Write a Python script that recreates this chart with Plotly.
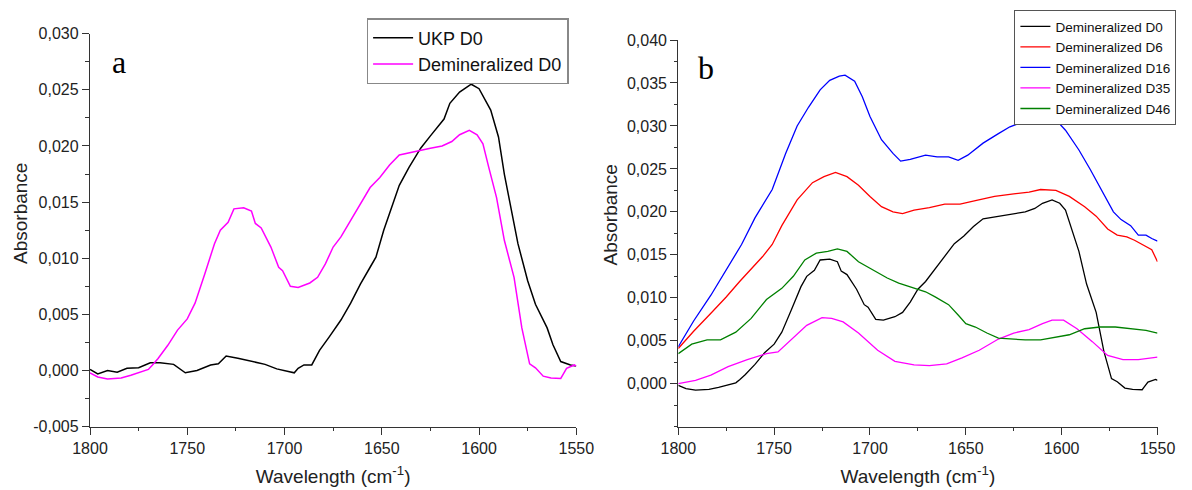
import plotly.graph_objects as go

# ---------------- data ----------------
# Panel a : UKP D0
ukp_d0_wn = [1800, 1796, 1791, 1786, 1781, 1775, 1769, 1764, 1757, 1751, 1745, 1738, 1734,
             1730, 1724, 1717, 1710, 1704, 1698, 1695, 1693, 1690, 1686, 1682, 1677, 1671,
             1666, 1661, 1656, 1653, 1649, 1646, 1641, 1636, 1630, 1625, 1618, 1615, 1610,
             1604, 1600, 1594, 1590, 1587, 1580, 1575, 1571, 1565, 1562, 1558, 1553, 1550]
ukp_d0_abs = [0.0001, -0.0003, 0.0000, -0.00015, 0.0002, 0.00025, 0.0007, 0.0007, 0.00055,
              -0.0002, 0.0000, 0.0005, 0.0006, 0.0013, 0.0011, 0.00085, 0.00055, 0.00015,
              -0.00005, -0.0002, 0.0002, 0.0005, 0.0005, 0.0018, 0.0030, 0.0045, 0.0060,
              0.0077, 0.0092, 0.0101, 0.0125, 0.0140, 0.0165, 0.0181, 0.0198, 0.0209, 0.0224,
              0.0238, 0.0248, 0.0255, 0.0251, 0.0232, 0.0208, 0.0175, 0.0113, 0.0080, 0.0059,
              0.0038, 0.0023, 0.0008, 0.0005, 0.0004]

# Demineralized D0 (same spectrum in both panels)
demin_d0_wn = [1800, 1796, 1791, 1784, 1779, 1774, 1770, 1768, 1765, 1760, 1755, 1750, 1746,
               1741, 1736, 1733, 1729, 1726, 1721, 1717, 1715, 1712, 1707, 1703, 1701, 1697,
               1693, 1687, 1683, 1679, 1675, 1671, 1666, 1661, 1656, 1651, 1646, 1641, 1636,
               1631, 1625, 1619, 1614, 1610, 1605, 1601, 1598, 1595, 1591, 1587, 1582, 1578,
               1574, 1571, 1567, 1563, 1558, 1557, 1555, 1551, 1550]
demin_d0_abs = [-0.0002, -0.00057, -0.00075, -0.00066, -0.00042, -0.00015, 0.0001, 0.00047,
                0.00107, 0.00225, 0.0036, 0.0046, 0.0060, 0.0086, 0.0113, 0.0125, 0.0132,
                0.0144, 0.0145, 0.0142, 0.0131, 0.0127, 0.0110, 0.0092, 0.0089, 0.0075,
                0.0074, 0.0078, 0.0083, 0.0095, 0.0110, 0.0119, 0.0134, 0.0149, 0.0163,
                0.0172, 0.0183, 0.0192, 0.0194, 0.0196, 0.0198, 0.0200, 0.0204, 0.0210,
                0.0214, 0.0210, 0.0202, 0.0181, 0.0154, 0.0116, 0.0083, 0.0038, 0.0006,
                0.00024, -0.0005, -0.00066, -0.0007, -0.0004, 0.0002, 0.0005, 0.0004]

# Panel b
d6_wn = [1800, 1792, 1783, 1775, 1768, 1762, 1756, 1751, 1746, 1738, 1730, 1724, 1718, 1712,
         1706, 1700, 1694, 1688, 1683, 1677, 1669, 1661, 1653, 1645, 1635, 1625, 1617, 1611,
         1603, 1596, 1588, 1582, 1576, 1571, 1566, 1562, 1558, 1553, 1550]
d6_abs = [0.0041, 0.0061, 0.0082, 0.0101, 0.0119, 0.0133, 0.0148, 0.0162, 0.0184, 0.0214,
          0.0234, 0.0241, 0.0246, 0.0241, 0.0231, 0.0218, 0.0206, 0.0200, 0.0198, 0.0202,
          0.0205, 0.0209, 0.0209, 0.0213, 0.0218, 0.0221, 0.0223, 0.0226, 0.0225, 0.0218,
          0.0206, 0.0195, 0.0180, 0.0173, 0.0171, 0.0167, 0.0162, 0.0156, 0.0142]

d16_wn = [1800, 1792, 1783, 1775, 1767, 1760, 1751, 1744, 1738, 1732, 1726, 1721, 1716, 1713,
          1708, 1704, 1700, 1694, 1688, 1684, 1679, 1671, 1665, 1659, 1654, 1649, 1641, 1633,
          1627, 1621, 1616, 1610, 1603, 1598, 1591, 1585, 1579, 1573, 1569, 1564, 1560, 1556,
          1553, 1550]
d16_abs = [0.0043, 0.0073, 0.0103, 0.0133, 0.0162, 0.0193, 0.0226, 0.0268, 0.0300, 0.0322,
           0.0342, 0.0353, 0.0358, 0.0359, 0.0352, 0.0334, 0.0311, 0.0284, 0.0268, 0.0259,
           0.0261, 0.0266, 0.0264, 0.0264, 0.0260, 0.0266, 0.0280, 0.0291, 0.0299, 0.0304,
           0.0310, 0.0309, 0.0307, 0.0295, 0.0272, 0.0249, 0.0224, 0.0200, 0.0191, 0.0184,
           0.0173, 0.0173, 0.0169, 0.0166]

d35_wn = [1800, 1791, 1783, 1774, 1764, 1754, 1748, 1740, 1733, 1725, 1720, 1714, 1706, 1696,
          1687, 1677, 1669, 1660, 1652, 1643, 1633, 1625, 1617, 1610, 1605, 1599, 1592, 1584,
          1576, 1568, 1560, 1550]
d35_abs = [0.0000, 0.0004, 0.0010, 0.0020, 0.0028, 0.0035, 0.0037, 0.0053, 0.0068, 0.0077,
           0.0076, 0.0072, 0.0059, 0.0039, 0.0026, 0.0022, 0.0021, 0.0023, 0.0030, 0.0039,
           0.0052, 0.0059, 0.0063, 0.0070, 0.0074, 0.0074, 0.0064, 0.0049, 0.0033, 0.0028,
           0.0028, 0.0031]

d46_wn = [1800, 1793, 1785, 1778, 1770, 1762, 1754, 1746, 1740, 1734, 1728, 1722, 1717, 1712,
          1706, 1698, 1691, 1685, 1679, 1671, 1666, 1659, 1654, 1650, 1645, 1639, 1633, 1627,
          1619, 1611, 1603, 1596, 1588, 1580, 1572, 1564, 1556, 1550]
d46_abs = [0.0035, 0.0046, 0.0051, 0.0051, 0.0060, 0.0076, 0.0098, 0.0111, 0.0125, 0.0144,
           0.0152, 0.0154, 0.0157, 0.0154, 0.0142, 0.0132, 0.0123, 0.0117, 0.0113, 0.0107,
           0.0101, 0.0092, 0.0080, 0.0070, 0.0066, 0.0059, 0.0053, 0.0052, 0.0051, 0.0051,
           0.0054, 0.0057, 0.0064, 0.0066, 0.0066, 0.0064, 0.0062, 0.0059]

x_tick_vals = [1800, 1750, 1700, 1650, 1600, 1550]
a_y_tick_vals = [-0.005, 0.0, 0.005, 0.010, 0.015, 0.020, 0.025, 0.030]
a_y_tick_text = ["-0,005", "0,000", "0,005", "0,010", "0,015", "0,020", "0,025", "0,030"]
b_y_tick_vals = [0.0, 0.005, 0.010, 0.015, 0.020, 0.025, 0.030, 0.035, 0.040]
b_y_tick_text = ["0,000", "0,005", "0,010", "0,015", "0,020", "0,025", "0,030", "0,035", "0,040"]

# ---------------- figure ----------------
W, H = 1192, 490
FONT = "Liberation Sans, Arial, sans-serif"
AX = "#333333"

fig = go.Figure()
lw = 1.5
fig.add_trace(go.Scatter(x=ukp_d0_wn, y=ukp_d0_abs, mode="lines", name="UKP D0",
                         line=dict(color="#000000", width=lw), xaxis="x", yaxis="y", legend="legend"))
fig.add_trace(go.Scatter(x=demin_d0_wn, y=demin_d0_abs, mode="lines", name="Demineralized D0",
                         line=dict(color="#FF00FF", width=lw), xaxis="x", yaxis="y", legend="legend"))

b_series = [("Demineralized D0", demin_d0_wn, demin_d0_abs, "#000000"),
            ("Demineralized D6", d6_wn, d6_abs, "#FF0000"),
            ("Demineralized D16", d16_wn, d16_abs, "#0000FF"),
            ("Demineralized D35", d35_wn, d35_abs, "#FF00FF"),
            ("Demineralized D46", d46_wn, d46_abs, "#008000")]
for name, xs, ys, col in b_series:
    fig.add_trace(go.Scatter(x=xs, y=ys, mode="lines", name=name,
                             line=dict(color=col, width=1.3), xaxis="x2", yaxis="y2",
                             legend="legend2"))


def xaxis_cfg(domain, anchor):
    return dict(domain=domain, anchor=anchor, range=[1800, 1550], autorange=False,
                tickmode="array", tickvals=x_tick_vals,
                ticks="outside", ticklen=7, tickwidth=1.3, tickcolor=AX,
                showline=True, linecolor=AX, linewidth=1.3, showgrid=False, zeroline=False,
                minor=dict(ticks="outside", ticklen=3.5, tickwidth=1.3, tickcolor=AX,
                           dtick=25, tick0=1550, showgrid=False),
                tickfont=dict(family=FONT, size=16, color="#222222"),
                title=dict(text="Wavelength (cm<sup>-1</sup>)", standoff=13,
                           font=dict(family=FONT, size=19, color="#222222")),
                automargin=False)


def yaxis_cfg(domain, anchor, rng, tv, tt):
    return dict(domain=domain, anchor=anchor, range=rng, autorange=False,
                tickmode="array", tickvals=tv, ticktext=tt,
                ticks="outside", ticklen=7, tickwidth=1.3, tickcolor=AX,
                showline=True, linecolor=AX, linewidth=1.3, showgrid=False, zeroline=False,
                minor=dict(ticks="outside", ticklen=3.5, tickwidth=1.3, tickcolor=AX,
                           dtick=0.0025, tick0=0, showgrid=False),
                tickfont=dict(family=FONT, size=16, color="#222222"),
                automargin=False)


fig.update_layout(
    width=W, height=H,
    margin=dict(l=0, r=0, t=0, b=0),
    paper_bgcolor="white", plot_bgcolor="white",
    font=dict(family=FONT, color="#222222"),
    xaxis=xaxis_cfg([90 / W, 576.3 / W], "y"),
    yaxis=yaxis_cfg([1 - 426.7 / H, 1 - 33.7 / H], "x", [-0.005, 0.030],
                    a_y_tick_vals, a_y_tick_text),
    xaxis2=xaxis_cfg([678.3 / W, 1157.5 / W], "y2"),
    yaxis2=yaxis_cfg([1 - 426.7 / H, 1 - 40 / H], "x2", [-0.005, 0.040],
                     b_y_tick_vals, b_y_tick_text),
    showlegend=True,
    legend=dict(x=366.6 / W, y=1 - 18 / H, xanchor="left", yanchor="top",
                bgcolor="white", bordercolor="#888888", borderwidth=1.5,
                font=dict(family=FONT, size=18, color="#111111"),
                tracegroupgap=0, itemwidth=40),
    legend2=dict(x=1014.4 / W, y=1 - 10 / H, xanchor="left", yanchor="top",
                 bgcolor="white", bordercolor="#555555", borderwidth=1,
                 font=dict(family=FONT, size=13.5, color="#111111"),
                 tracegroupgap=0, itemwidth=30),
    annotations=[
        dict(text="a", x=119 / W, y=1 - 62 / H, xref="paper", yref="paper",
             xanchor="center", yanchor="middle", showarrow=False,
             font=dict(family="Liberation Serif, Times New Roman, serif", size=32, color="#000000")),
        dict(text="b", x=705.5 / W, y=1 - 68 / H, xref="paper", yref="paper",
             xanchor="center", yanchor="middle", showarrow=False,
             font=dict(family="Liberation Serif, Times New Roman, serif", size=32, color="#000000")),
        dict(text="Absorbance", x=20 / W, y=1 - 214 / H, xref="paper", yref="paper",
             xanchor="center", yanchor="middle", textangle=-90, showarrow=False,
             font=dict(family=FONT, size=19, color="#222222")),
        dict(text="Absorbance", x=610 / W, y=1 - 215.5 / H, xref="paper", yref="paper",
             xanchor="center", yanchor="middle", textangle=-90, showarrow=False,
             font=dict(family=FONT, size=19, color="#222222")),
    ],
)

fig.write_html("out.html",
               config={"displayModeBar": False},
               post_script="document.body.style.margin='0';document.body.style.overflow='hidden';")
